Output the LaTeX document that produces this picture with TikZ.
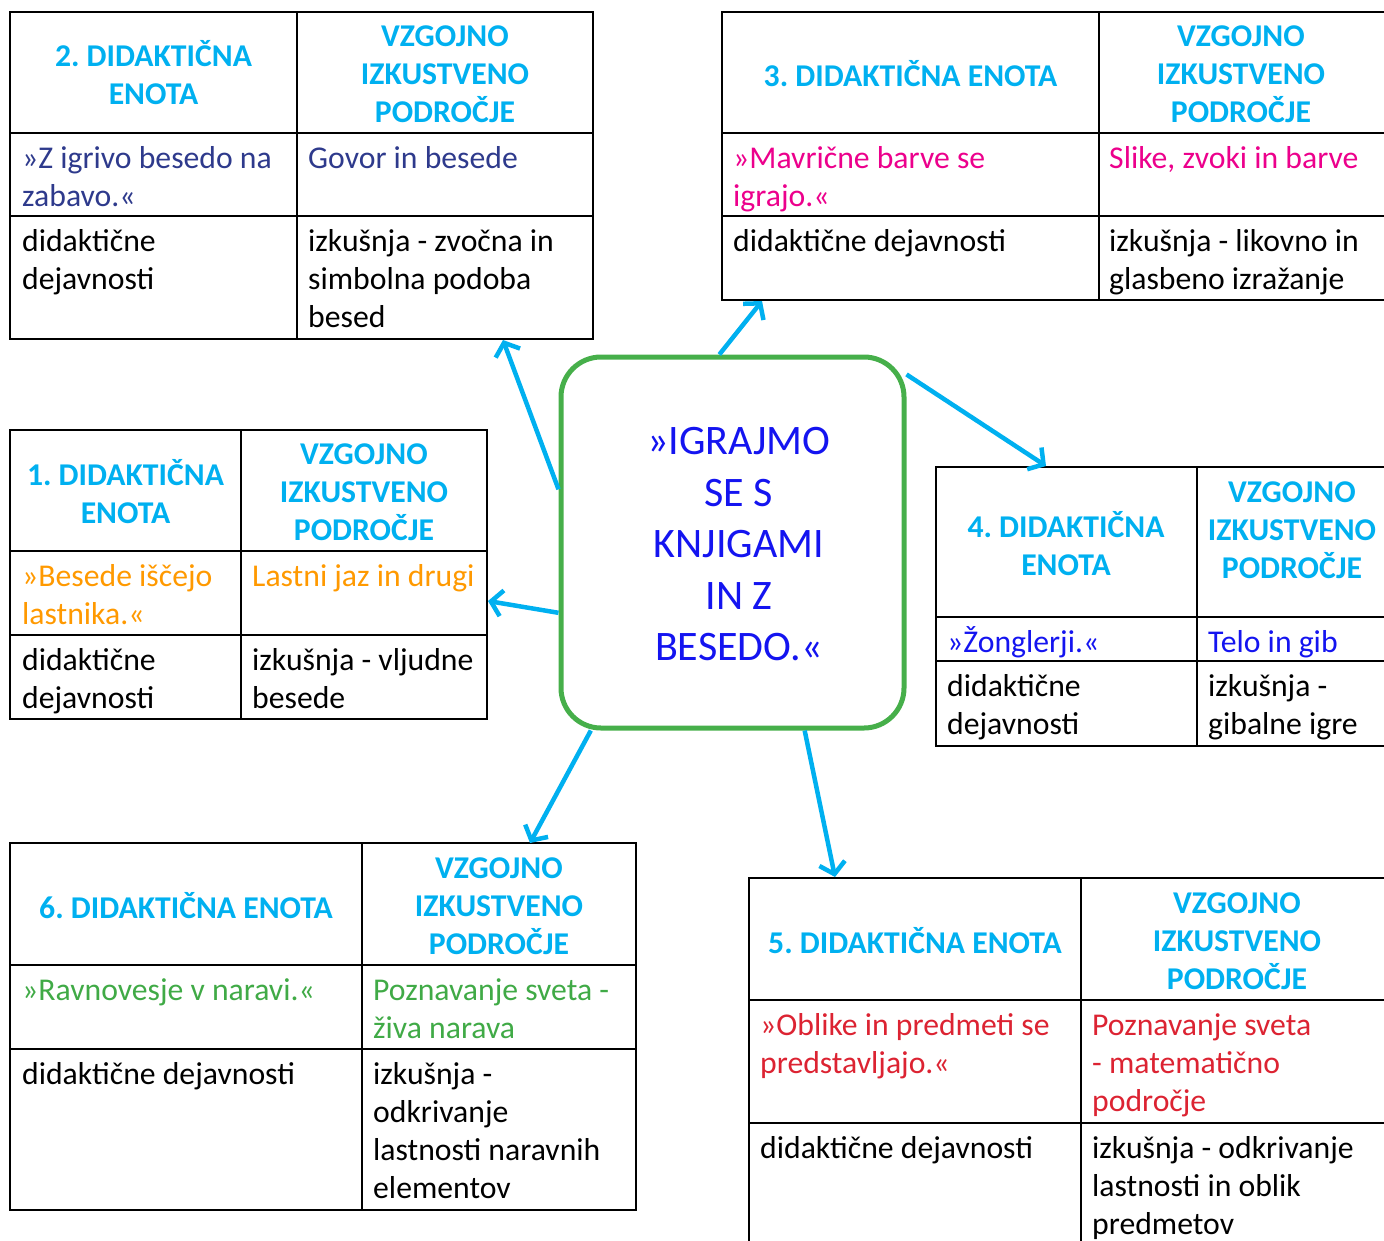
\documentclass[tikz,border=0pt]{standalone}
\usepackage{fontspec}
\setmainfont{Carlito}
\usetikzlibrary{arrows.meta}

\definecolor{headcyan}{RGB}{0,176,240}
\definecolor{navytxt}{RGB}{46,58,140}
\definecolor{magtxt}{RGB}{236,0,140}
\definecolor{orangetxt}{RGB}{255,153,0}
\definecolor{bluetxt}{RGB}{20,20,240}
\definecolor{greentxt}{RGB}{64,170,70}
\definecolor{redtxt}{RGB}{220,35,50}
\definecolor{boxgreen}{RGB}{70,175,74}
\frenchspacing
\newcommand\cellfont{\fontsize{31.7}{38}\selectfont}
\newcommand\bigfont{\fontsize{42}{51.5}\selectfont}

\begin{document}
\begin{tikzpicture}[x=1pt, y=-1pt,
        tab/.style={line width=2.2pt},
        head/.style={align=flush center, inner sep=0pt, text=headcyan, font=\cellfont\bfseries},
        cell/.style={anchor=north west, text width=330pt, align=flush left, inner sep=0pt, font=\cellfont, execute at begin node=\strut},
        arr/.style={-{Straight Barb[length=11pt,width=26pt]}, line width=4.5pt, headcyan}]
    \useasboundingbox (0,0) rectangle (1384,1240);

    % 2. enota
    \draw[tab] (10,12) rectangle (593,339) (297,12) -- (297,339) (10,133) -- (593,133) (10,216) -- (593,216);
    \node[head] (h2a) at (153.5,73) {2. DIDAKTIČNA\\ENOTA};
    \node[head] (h2b) at (445,74) {VZGOJNO\\IZKUSTVENO\\PODROČJE};
    \node[cell, text=navytxt] (n2) at (22,141.4) {»Z igrivo besedo na\\zabavo.«};
    \node[cell, text=navytxt] (p2) at (308,141.4) {Govor in besede};
    \node[cell] (d2) at (22,224.4) {didaktične\\dejavnosti};
    \node[cell] (i2) at (308,224.4) {izkušnja - zvočna in\\simbolna podoba\\besed};

    % 3. enota
    \draw[tab] (722,12) rectangle (1388,300) (1099,12) -- (1099,300) (722,133) -- (1388,133) (722,216) -- (1388,216);
    \node[head] (h3a) at (910.5,74) {3. DIDAKTIČNA ENOTA};
    \node[head] (h3b) at (1241,74) {VZGOJNO\\IZKUSTVENO\\PODROČJE};
    \node[cell, text=magtxt] (n3) at (733,141.4) {»Mavrične barve se\\igrajo.«};
    \node[cell, text=magtxt] (p3) at (1109,141.4) {Slike, zvoki in barve};
    \node[cell] (d3) at (733,224.4) {didaktične dejavnosti};
    \node[cell] (i3) at (1109,224.4) {izkušnja - likovno in\\glasbeno izražanje};

    % 1. enota
    \draw[tab] (10,430) rectangle (487,719) (241,430) -- (241,719) (10,551) -- (487,551) (10,635) -- (487,635);
    \node[head] (h1a) at (125.5,492) {1. DIDAKTIČNA\\ENOTA};
    \node[head] (h1b) at (364,492) {VZGOJNO\\IZKUSTVENO\\PODROČJE};
    \node[cell, text=orangetxt] (n1) at (22,559.4) {»Besede iščejo\\lastnika.«};
    \node[cell, text=orangetxt] (p1) at (252,559.4) {Lastni jaz in drugi};
    \node[cell] (d1) at (22,643.4) {didaktične\\dejavnosti};
    \node[cell] (i1) at (252,643.4) {izkušnja - vljudne\\besede};

    % 4. enota
    \draw[tab] (936,467) rectangle (1388,746) (1197,467) -- (1197,746) (936,617) -- (1388,617) (936,661) -- (1388,661);
    \node[head] (h4a) at (1066,544) {4. DIDAKTIČNA\\ENOTA};
    \node[head] (h4b) at (1292,530) {VZGOJNO\\IZKUSTVENO\\PODROČJE};
    \node[cell, text=bluetxt] (n4) at (947,625.4) {»Žonglerji.«};
    \node[cell, text=bluetxt] (p4) at (1208,625.4) {Telo in gib};
    \node[cell] (d4) at (947,669.4) {didaktične\\dejavnosti};
    \node[cell] (i4) at (1208,669.4) {izkušnja -\\gibalne igre};

    % 6. enota
    \draw[tab] (10,843) rectangle (636,1210) (362,843) -- (362,1210) (10,965) -- (636,965) (10,1049) -- (636,1049);
    \node[head] (h6a) at (186,906) {6. DIDAKTIČNA ENOTA};
    \node[head] (h6b) at (499,906) {VZGOJNO\\IZKUSTVENO\\PODROČJE};
    \node[cell, text=greentxt] (n6) at (22,973.4) {»Ravnovesje v naravi.«};
    \node[cell, text=greentxt] (p6) at (373,973.4) {Poznavanje sveta -\\živa narava};
    \node[cell] (d6) at (22,1057.4) {didaktične dejavnosti};
    \node[cell] (i6) at (373,1057.4) {izkušnja -\\odkrivanje\\lastnosti naravnih\\elementov};

    % 5. enota
    \draw[tab] (749,878) rectangle (1388,1250) (1081,878) -- (1081,1250) (749,1000) -- (1388,1000) (749,1123) -- (1388,1123);
    \node[head] (h5a) at (915,941) {5. DIDAKTIČNA ENOTA};
    \node[head] (h5b) at (1237,941) {VZGOJNO\\IZKUSTVENO\\PODROČJE};
    \node[cell, text=redtxt] (n5) at (760,1008.4) {»Oblike in predmeti se\\predstavljajo.«};
    \node[cell, text=redtxt] (p5) at (1092,1008.4) {Poznavanje sveta\\- matematično\\področje};
    \node[cell] (d5) at (760,1131.4) {didaktične dejavnosti};
    \node[cell] (i5) at (1092,1131.4) {izkušnja - odkrivanje\\lastnosti in oblik\\predmetov};

    % sredina
    \node[draw=boxgreen, line width=5pt, rounded corners=40pt, minimum width=343pt, minimum height=371pt] (igra) at (732.5,542.5) {};
    \node[align=flush center, text=bluetxt, font=\bigfont] (igratxt) at (739,544.5) {»IGRAJMO\\SE S\\KNJIGAMI\\IN Z\\BESEDO.«};

    \coordinate (to2) at (503,340);
    \coordinate (to3) at (762,301);
    \coordinate (to4) at (1046,466);
    \coordinate (to1) at (488,601);
    \coordinate (to6) at (530,843);
    \coordinate (to5) at (835,877);

    \draw[arr] (igra.163) -- (to2);
    \draw[arr] (igra.94) -- (to3);
    \draw[arr] (igra.44) -- (to4);
    \draw[arr] (igra.202) -- (to1);
    \draw[arr] (igra.233) -- (to6);
    \draw[arr] (igra.291.5) -- (to5);
\end{tikzpicture}
\end{document}
